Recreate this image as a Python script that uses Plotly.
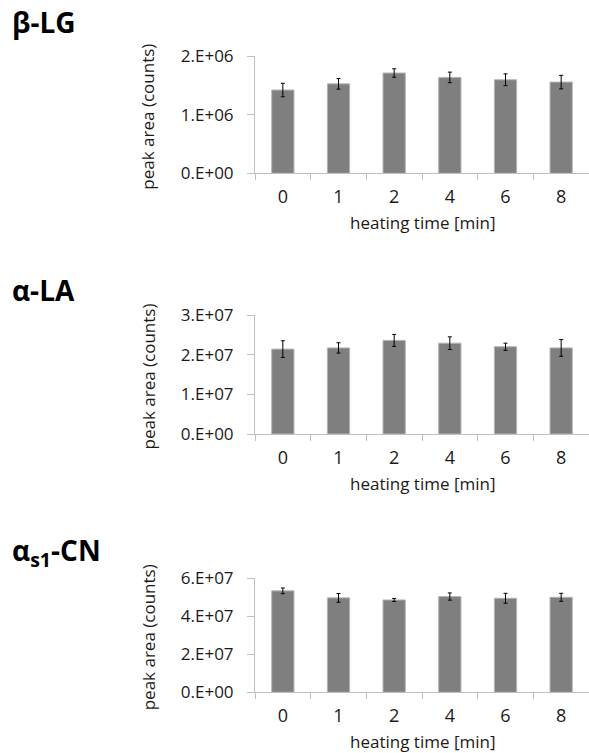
import plotly.graph_objects as go

W, H = 589, 753

categories = ["0", "1", "2", "4", "6", "8"]

blg_mean = [1.42e6, 1.525e6, 1.71e6, 1.635e6, 1.595e6, 1.555e6]
blg_err = [0.115e6, 0.09e6, 0.072e6, 0.09e6, 0.10e6, 0.115e6]
blg_ticks = [0, 1e6, 2e6]
blg_ticktext = ["0.E+00", "1.E+06", "2.E+06"]

ala_mean = [2.14e7, 2.17e7, 2.36e7, 2.29e7, 2.20e7, 2.17e7]
ala_err = [0.21e7, 0.13e7, 0.15e7, 0.16e7, 0.09e7, 0.21e7]
ala_ticks = [0, 1e7, 2e7, 3e7]
ala_ticktext = ["0.E+00", "1.E+07", "2.E+07", "3.E+07"]

cn_mean = [5.34e7, 4.97e7, 4.86e7, 5.04e7, 4.95e7, 5.00e7]
cn_err = [0.15e7, 0.23e7, 0.08e7, 0.19e7, 0.26e7, 0.21e7]
cn_ticks = [0, 2e7, 4e7, 6e7]
cn_ticktext = ["0.E+00", "2.E+07", "4.E+07", "6.E+07"]

panel_titles = ["β-LG", "α-LA", "α<sub>s1</sub>-CN"]
x_title = "heating time [min]"
y_title = "peak area (counts)"

FONT = "Open Sans"
AXCOL = "#bfbfbf"
TXT = "#1a1a1a"

panels = [
    dict(mean=blg_mean, err=blg_err, ticks=blg_ticks, tt=blg_ticktext, top=56, bot=173.3, title_y=22),
    dict(mean=ala_mean, err=ala_err, ticks=ala_ticks, tt=ala_ticktext, top=315, bot=434, title_y=290),
    dict(mean=cn_mean, err=cn_err, ticks=cn_ticks, tt=cn_ticktext, top=578.3, bot=692.3, title_y=552),
]

x0 = 255 / W

fig = go.Figure()
annotations = []
for i, p in enumerate(panels):
    n = i + 1
    xa = "x" if n == 1 else f"x{n}"
    ya = "y" if n == 1 else f"y{n}"
    fig.add_trace(go.Bar(
        x=categories, y=p["mean"], xaxis=xa, yaxis=ya,
        width=0.4,
        marker=dict(color="#7f7f7f", line=dict(color="#b5b5b5", width=1)),
        error_y=dict(type="data", array=p["err"], visible=True,
                     color="#000000", thickness=1, width=2),
        showlegend=False, hoverinfo="skip",
    ))
    dom = [1 - p["bot"] / H, 1 - p["top"] / H]
    fig.layout[f"xaxis{'' if n == 1 else n}"] = dict(
        domain=[x0, 1.0], anchor=ya, type="category",
        range=[-0.5, 5.5], tickson="boundaries",
        showline=True, linecolor=AXCOL, linewidth=1,
        ticks="outside", ticklen=6, tickcolor=AXCOL, tickwidth=1,
        showgrid=False, zeroline=False, automargin=False,
        tickfont=dict(family=FONT, size=18, color=TXT),
        ticklabelstandoff=7,
    )
    fig.layout[f"yaxis{'' if n == 1 else n}"] = dict(
        domain=dom, anchor=xa,
        range=[0, p["ticks"][-1]],
        tickvals=p["ticks"], ticktext=p["tt"],
        showline=True, linecolor=AXCOL, linewidth=1,
        ticks="outside", ticklen=7, tickcolor=AXCOL, tickwidth=1,
        showgrid=False, zeroline=False, automargin=False,
        tickfont=dict(family=FONT, size=17, color=TXT),
        ticklabelstandoff=10,
    )
    annotations.append(dict(
        text=f"<b>{panel_titles[i]}</b>", xref="paper", yref="paper",
        x=10 / W, y=1 - p["title_y"] / H, xanchor="left", yanchor="middle",
        showarrow=False, font=dict(family=FONT, size=28, color="#000000"),
    ))
    annotations.append(dict(
        text=x_title, xref="paper", yref="paper",
        x=(255 + W) / 2 / W, y=1 - (p["bot"] + 49) / H,
        xanchor="center", yanchor="middle", showarrow=False,
        font=dict(family=FONT, size=17, color=TXT),
    ))
    annotations.append(dict(
        text=y_title, xref="paper", yref="paper",
        x=148 / W, y=1 - ((p["top"] + p["bot"]) / 2 + 2) / H,
        xanchor="center", yanchor="middle", textangle=-90, showarrow=False,
        font=dict(family=FONT, size=17, color=TXT),
    ))

fig.update_layout(
    width=W, height=H, margin=dict(l=0, r=0, t=0, b=0),
    paper_bgcolor="white", plot_bgcolor="white",
    annotations=annotations, bargap=0.6,
)

fig.write_html(
    "out.html",
    config={"displayModeBar": False, "staticPlot": True},
    post_script="document.body.style.margin='0';document.body.style.overflow='hidden';",
)
